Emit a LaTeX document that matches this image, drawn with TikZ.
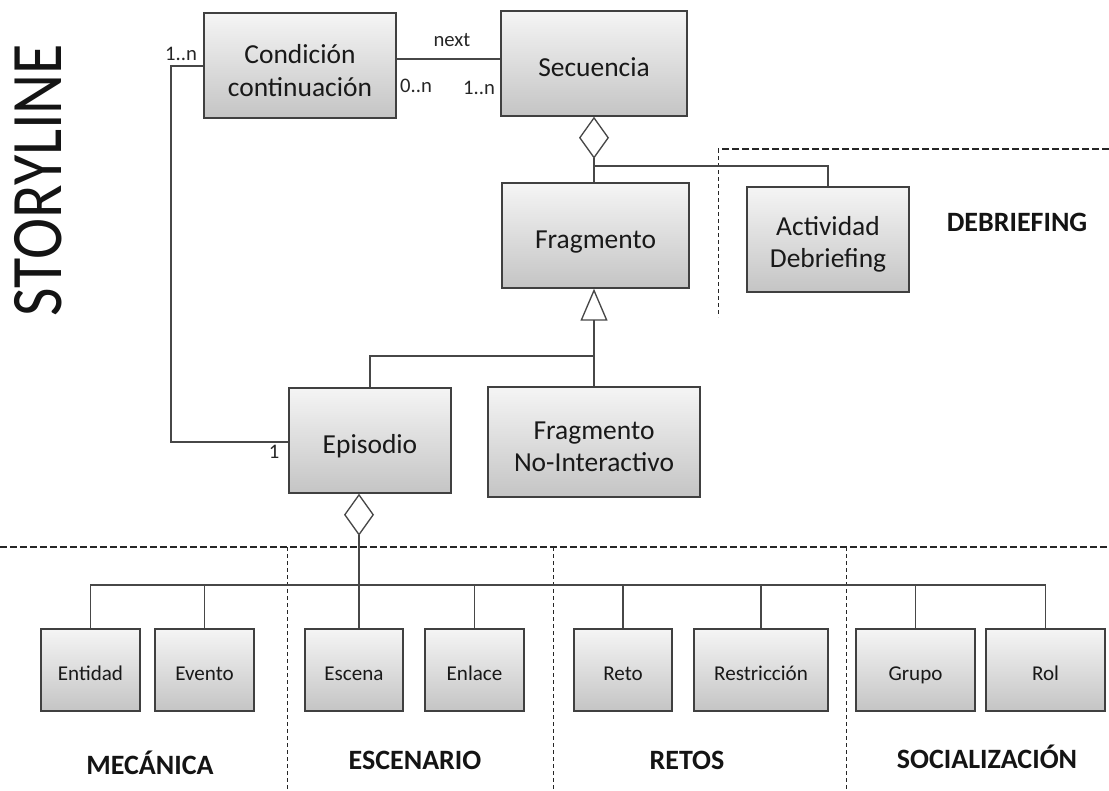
\documentclass[tikz,border=0pt]{standalone}
\usepackage{fontspec}
\setmainfont{Carlito}
\usetikzlibrary{arrows.meta}

\begin{document}
\begin{tikzpicture}[x=0.75pt, y=-0.75pt,
  box/.style={draw=black!75, line width=1.1pt, top color=black!4, bottom color=black!23,
    text=black!90, inner sep=0pt, align=center,
    font=\fontsize{20.6}{24}\selectfont},
  bigbox/.style={box, minimum height=78.75pt, text height=22.5pt, text depth=3.3pt},
  twolbl/.style={align=center, inner sep=0pt, yshift=-3.6pt, text=black!90,
    font=\fontsize{20.6}{24.5}\selectfont},
  twoline/.style={box, minimum height=78.75pt, label={[twolbl]center:{#1}}},
  leafbox/.style={box, minimum height=61.5pt, text height=18pt, text depth=2.6pt,
    font=\fontsize{15.8}{19}\selectfont},
  link/.style={draw=black!72, line width=1pt},
  aggr/.style={link, -{Diamond[open, length=31.5pt, width=22.5pt, line width=1pt]}},
  gen/.style={link, -{Triangle[open, length=24pt, width=20.25pt, line width=1pt]}},
  mult/.style={inner sep=0pt, text=black!85, font=\fontsize{15.5}{18}\selectfont},
  cat/.style={inner sep=0pt, anchor=base, text=black!92, font=\bfseries\fontsize{21}{25}\selectfont},
  zone/.style={draw=black!85, line width=0.9pt, dash pattern=on 5.25pt off 2.25pt},
  zonev/.style={draw=black!85, line width=0.75pt, dash pattern=on 3pt off 2.25pt}
]
\useasboundingbox (0,0) rectangle (1109,790);

% title
\node[rotate=90, inner sep=0pt, text=black!92, font=\fontsize{46.5}{50}\selectfont]
  (title) at (38,180) {\scalebox{1}[1.17]{STORYLINE}};

% storyline classes
\node[twoline={Condición\\continuación}, minimum width=144pt] (cond) at (300,65.5) {};
\node[bigbox, minimum width=139.5pt] (seq)  at (594,63.5)  {Secuencia};
\node[bigbox, minimum width=140.25pt](frag) at (595.5,235.5) {Fragmento};
\node[twoline={Actividad\\Debriefing}, minimum width=121.5pt] (act) at (828,239.5) {};
\node[bigbox, minimum width=121.5pt] (epi)  at (370,440.5) {Episodio};
\node[twoline={Fragmento\\No-Interactivo}, minimum width=159pt, minimum height=82.5pt]
  (noint) at (594,442) {};

% episode components
\node[leafbox, minimum width=74.25pt] (ent)  at (90.5,670)  {Entidad};
\node[leafbox, minimum width=74.25pt] (evt)  at (204.5,670) {Evento};
\node[leafbox, minimum width=73.5pt]  (esc)  at (354,670)   {Escena};
\node[leafbox, minimum width=74.25pt] (enl)  at (474.5,670) {Enlace};
\node[leafbox, minimum width=73.5pt]  (reto) at (623,670)   {Reto};
\node[leafbox, minimum width=100.5pt] (res)  at (761,670)   {Restricción};
\node[leafbox, minimum width=89.25pt] (grp)  at (915.5,670) {Grupo};
\node[leafbox, minimum width=89.25pt] (rol)  at (1045.5,670){Rol};

% zone separators
\draw[zone] (0,547) -- (1109,547);
\draw[zonev] (287,547) -- (287,790);
\draw[zonev] (553,547) -- (553,790);
\draw[zonev] (846,547) -- (846,790);
\draw[zone] (1109,149) -- (718,149);
\draw[zonev] (718,149) -- (718,317);

% zone labels
\node[cat] (lmec) at (150,774) {MECÁNICA};
\node[cat] (lesc) at (415,769) {ESCENARIO};
\node[cat] (lret) at (687,769) {RETOS};
\node[cat] (lsoc) at (987,768) {SOCIALIZACIÓN};
\node[cat] (ldeb) at (1017,231) {DEBRIEFING};

% junction points
\coordinate (j1) at (594,166);
\coordinate (j2) at (594,356);
\coordinate (bus) at (0,585);
\coordinate (aggx) at (359,0);

% next relation
\draw[link] (cond.east |- 0,59) -- (seq.west |- 0,59);
\node[mult] (mnext) at (452,40) {next};
\node[mult] (m0n) at (416,86) {0..n};
\node[mult] (m1n) at (479,88) {1..n};

% condition to episode
\draw[link] (cond.west |- 0,66) -| (171,442) -- (epi.west |- 0,442);
\node[mult] (m1nl) at (181,54) {1..n};
\node[mult] (m1) at (274,452) {1};

% sequence aggregates fragments and debriefing
\draw[aggr] (frag.north -| seq.south) -- (seq.south);
\draw[link] (act.north) |- (j1);

% fragment specialisations
\draw[gen] (noint.north) -- (noint.north |- frag.south);
\draw[link] (epi.north) |- (j2);

% episode aggregates its components
\draw[aggr] (aggx |- esc.north) -- (aggx |- epi.south);
\draw[link] (ent.north) -- (ent.north |- bus) -| (rol.north);
\draw[link] (evt.north) -- (evt.north |- bus);
\draw[link] (enl.north) -- (enl.north |- bus);
\draw[link] (reto.north) -- (reto.north |- bus);
\draw[link] (res.north) -- (res.north |- bus);
\draw[link] (grp.north) -- (grp.north |- bus);
\end{tikzpicture}
\end{document}
